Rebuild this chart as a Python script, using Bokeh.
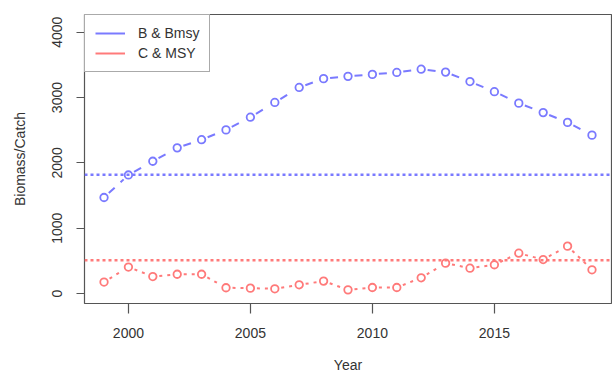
import numpy as np
from bokeh.plotting import figure
from bokeh.models import Span, Legend, LegendItem, Range1d, FixedTicker
from bokeh.embed import file_html
from bokeh.resources import INLINE

# ---- data ----
years = list(range(1999, 2020))
biomass = [1470, 1815, 2025, 2230, 2355, 2505, 2700, 2925, 3155, 3290, 3325,
           3355, 3385, 3435, 3390, 3245, 3090, 2915, 2770, 2620, 2425]
catch = [175, 405, 260, 295, 295, 88, 82, 72, 133, 190, 56,
         92, 92, 240, 465, 388, 440, 617, 520, 725, 363]
bmsy = 1820
msy = 510
x_ticks = [2000, 2005, 2010, 2015]
y_ticks = [0, 1000, 2000, 3000, 4000]

BLUE = "#7a7aff"
RED = "#ff7a7a"
FONT = "Liberation Sans"
TXT = "#333333"

W, H = 612, 377
MB_L, MB_R, MB_T, MB_B = 84, 1, 14, 74
x0, x1 = 1998.2, 2019.8
y0, y1 = -153, 4272

p = figure(width=W, height=H, output_backend="svg", toolbar_location=None,
           x_range=Range1d(x0, x1), y_range=Range1d(y0, y1),
           min_border_left=MB_L, min_border_right=MB_R,
           min_border_top=MB_T, min_border_bottom=MB_B)
p.grid.visible = False
p.outline_line_color = "#555555"
p.outline_line_width = 1.2
p.background_fill_color = "white"
p.border_fill_color = "white"

for ax in (p.xaxis[0], p.yaxis[0]):
    ax.axis_line_color = None
    ax.major_tick_in = 0
    ax.major_tick_line_color = "#555555"
    ax.major_tick_line_width = 1.2
    ax.minor_tick_line_color = None
    ax.major_label_text_font = FONT
    ax.major_label_text_font_size = "14px"
    ax.major_label_text_color = TXT
    ax.axis_label_text_font = FONT
    ax.axis_label_text_font_size = "14px"
    ax.axis_label_text_font_style = "normal"
    ax.axis_label_text_color = TXT

p.xaxis.ticker = FixedTicker(ticks=x_ticks)
p.yaxis.ticker = FixedTicker(ticks=y_ticks)
p.xaxis.major_tick_out = 10
p.xaxis.major_label_standoff = 14
p.xaxis.axis_label = "Year"
p.xaxis.axis_label_standoff = 16
p.yaxis.major_tick_out = 8
p.yaxis.major_label_standoff = 14
p.yaxis.major_label_orientation = "vertical"
p.yaxis.axis_label = "Biomass/Catch"
p.yaxis.axis_label_standoff = 22

# reference lines
p.add_layout(Span(location=bmsy, dimension="width", line_color=BLUE,
                  line_width=2.5, line_dash="3 3"))
p.add_layout(Span(location=msy, dimension="width", line_color=RED,
                  line_width=2.5, line_dash="3 3"))

# pixel scale for gaps around points (type="b" style)
fw = W - MB_L - MB_R
fh = H - MB_T - MB_B
kx = fw / (x1 - x0)
ky = fh / (y1 - y0)
GAP = 6.5


def gapped(xs, ys):
    xs = np.asarray(xs, float)
    ys = np.asarray(ys, float)
    dxs = np.diff(xs)
    dys = np.diff(ys)
    L = np.hypot(dxs * kx, dys * ky)
    f = GAP / L
    keep = L > 2 * GAP
    return ((xs[:-1] + f * dxs)[keep], (ys[:-1] + f * dys)[keep],
            (xs[1:] - f * dxs)[keep], (ys[1:] - f * dys)[keep])


bx0, by0, bx1, by1 = gapped(years, biomass)
p.segment(bx0, by0, bx1, by1, line_color=BLUE, line_width=2, line_dash="8 8")
p.scatter(years, biomass, marker="circle", size=7.5, fill_color=None,
          line_color=BLUE, line_width=1.8)

cx0, cy0, cx1, cy1 = gapped(years, catch)
p.segment(cx0, cy0, cx1, cy1, line_color=RED, line_width=2, line_dash="3 5")
p.scatter(years, catch, marker="circle", size=7.5, fill_color=None,
          line_color=RED, line_width=1.8)

# legend (solid line samples)
nan = float("nan")
lb = p.line([years[0]], [nan], line_color=BLUE, line_width=2)
lr = p.line([years[0]], [nan], line_color=RED, line_width=2)
legend = Legend(items=[LegendItem(label="B & Bmsy", renderers=[lb]),
                       LegendItem(label="C & MSY", renderers=[lr])],
                location="top_left", margin=0, padding=10, spacing=4,
                glyph_width=30, glyph_height=16, label_height=16,
                label_standoff=13,
                label_text_font=FONT, label_text_font_size="14px",
                label_text_color=TXT,
                border_line_color="#555555", border_line_width=1.2,
                background_fill_alpha=1.0)
p.add_layout(legend)

open("out.html", "w").write(file_html(p, INLINE))
